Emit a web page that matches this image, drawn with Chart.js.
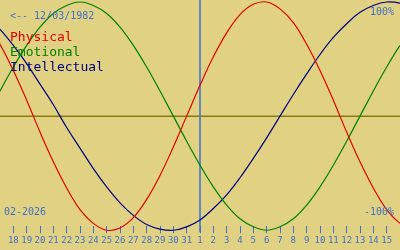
<!DOCTYPE html>
<html>
<head>
<meta charset="utf-8">
<script src="https://cdn.jsdelivr.net/npm/chart.js@4/dist/chart.umd.min.js"></script>
<style>
  html, body { margin: 0; padding: 0; background: #e1d283; }
  canvas { display: block; }
</style>
</head>
<body>
<canvas id="myChart" width="400" height="250"></canvas>
<script>
// day index: 0 = 18 Jan, 14 = 1 Feb (today)
var days = [-2,-1,0,1,2,3,4,5,6,7,8,9,10,11,12,13,14,15,16,17,18,19,20,21,22,23,24,25,26,27,28,29,30];
var dayLabels = ['18','19','20','21','22','23','24','25','26','27','28','29','30','31',
                 '1','2','3','4','5','6','7','8','9','10','11','12','13','14','15'];
var physical = [0.82,0.63,0.40,0.14,-0.14,-0.40,-0.63,-0.82,-0.94,-1.00,-0.98,-0.89,-0.73,-0.52,-0.27,0,
                0.27,0.52,0.73,0.89,0.98,1.00,0.94,0.82,0.63,0.40,0.14,-0.14,-0.40,-0.63,-0.82,-0.94,-1.00];
var emotional = [0,0.22,0.43,0.62,0.78,0.90,0.97,1.00,0.97,0.90,0.78,0.62,0.43,0.22,0,-0.22,-0.43,
                 -0.62,-0.78,-0.90,-0.97,-1.00,-0.97,-0.90,-0.78,-0.62,-0.43,-0.22,0,0.22,0.43,0.62,0.78];
var intellectual = [0.87,0.76,0.62,0.46,0.28,0.10,-0.10,-0.28,-0.46,-0.62,-0.76,-0.87,-0.95,-0.99,-1.00,
                    -0.97,-0.91,-0.81,-0.69,-0.54,-0.37,-0.19,0,0.19,0.37,0.54,0.69,0.81,0.91,0.97,1.00,0.99,0.95];
var todayIndex = 14;
var birthText = '<-- 12/03/1982';
var monthText = '02-2026';

var textBlue = '#3f6fc8';

function points(values){
    return values.map(function(v, i){ return {x: days[i], y: v}; });
}

var overlay = {
    id: 'overlay',
    beforeDatasetsDraw: function(chart){
        var ctx = chart.ctx;
        var xs = chart.scales.x, ys = chart.scales.y;
        var y0 = ys.getPixelForValue(0);
        var xt = xs.getPixelForValue(todayIndex);
        ctx.save();
        // zero line
        ctx.strokeStyle = '#8c7a10';
        ctx.lineWidth = 1.5;
        ctx.beginPath();
        ctx.moveTo(0, y0);
        ctx.lineTo(chart.width, y0);
        ctx.stroke();
        // today line
        ctx.strokeStyle = '#3a6fd0';
        ctx.lineWidth = 1.5;
        ctx.beginPath();
        ctx.moveTo(xt, 0);
        ctx.lineTo(xt, chart.chartArea.bottom + 6);
        ctx.stroke();
        ctx.restore();
    },
    afterDatasetsDraw: function(chart){
        var ctx = chart.ctx;
        ctx.save();
        ctx.textBaseline = 'middle';
        ctx.font = '10px "DejaVu Sans Mono"';
        ctx.fillStyle = textBlue;
        ctx.textAlign = 'left';
        ctx.fillText(birthText, 10, 16);
        ctx.fillText(monthText, 4, 212);
        ctx.textAlign = 'right';
        ctx.fillText('100%', 394, 12);
        ctx.fillText('-100%', 394, 212);
        ctx.textAlign = 'left';
        ctx.font = '13px "DejaVu Sans Mono"';
        ctx.fillStyle = '#e00000';
        ctx.fillText('Physical', 10, 38);
        ctx.fillStyle = '#008000';
        ctx.fillText('Emotional', 10, 53);
        ctx.fillStyle = '#000080';
        ctx.fillText('Intellectual', 10, 68);
        ctx.restore();
    }
};

var ctx = document.getElementById('myChart').getContext('2d');
var chart = new Chart(ctx, {
    type: 'line',
    data: {
        datasets: [
            { label: 'Physical', data: points(physical), borderColor: '#e00000' },
            { label: 'Emotional', data: points(emotional), borderColor: '#008000' },
            { label: 'Intellectual', data: points(intellectual), borderColor: '#000080' }
        ]
    },
    options: {
        responsive: false,
        animation: false,
        layout: { padding: { left: 0, right: 0, top: 0, bottom: 2 } },
        elements: {
            point: { radius: 0 },
            line: { borderWidth: 1.2, tension: 0.4, fill: false }
        },
        datasets: {
            line: { clip: { left: 0, right: 0, top: 5, bottom: 10 } }
        },
        plugins: { legend: { display: false }, tooltip: { enabled: false } },
        scales: {
            x: {
                type: 'linear',
                min: -1,
                max: 29,
                border: { display: false },
                grid: { drawOnChartArea: false, tickLength: 7, color: textBlue, lineWidth: 1 },
                afterBuildTicks: function(scale){
                    scale.ticks = scale.ticks.filter(function(t){ return t.value >= 0 && t.value <= 28; });
                },
                ticks: {
                    stepSize: 1,
                    autoSkip: false,
                    maxRotation: 0,
                    minRotation: 0,
                    padding: 2,
                    color: textBlue,
                    font: { family: 'DejaVu Sans Mono', size: 9 },
                    callback: function(value){ return dayLabels[value]; }
                }
            },
            y: {
                display: false,
                min: -0.9646,
                max: 1.0177
            }
        }
    },
    plugins: [overlay]
});
</script>
</body>
</html>
